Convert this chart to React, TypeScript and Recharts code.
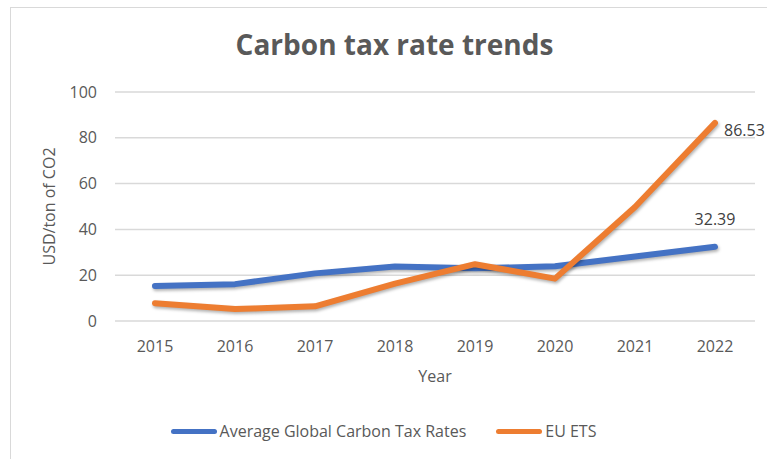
import React from "react";
import { LineChart, Line, XAxis, YAxis, CartesianGrid, LabelList } from "recharts";

const years = ["2015", "2016", "2017", "2018", "2019", "2020", "2021", "2022"];
const globalRates = [15.3, 16.1, 20.8, 23.8, 23.0, 23.9, 28.2, 32.39];
const euEts = [7.7, 5.2, 6.4, 16.3, 24.8, 18.5, 49.8, 86.53];
const yTicks = [0, 20, 40, 60, 80, 100];
const seriesNames = ["Average Global Carbon Tax Rates", "EU ETS"];
const seriesColors = ["#4472C4", "#ED7D31"];

const data = years.map((year, i) => ({ year, global: globalRates[i], eu: euEts[i] }));

const FONT = "'Open Sans', 'Noto Sans', sans-serif";
const TEXT = "#595959";

const lastLabel = (pos: "top" | "right") => (props: any) => {
    const { x, y, index, value } = props;
    if (index !== years.length - 1) return null;
    if (pos === "top") {
        return (
            <text x={x} y={y - 22} textAnchor="middle" fill="#404040" fontSize={16} fontFamily={FONT}>
                {value}
            </text>
        );
    }
    return (
        <text x={x + 9} y={y + 13} textAnchor="start" fill="#404040" fontSize={16} fontFamily={FONT}>
            {value}
        </text>
    );
};

const App: React.FC = () => (
    <div style={{ position: "absolute", left: 0, top: 0, width: 767, height: 459, background: "#fff", overflow: "hidden" }}>
        <style>{`.shadowed path { filter: drop-shadow(1px 2px 1.5px rgba(0,0,0,0.3)); }`}</style>
        <div style={{ position: "absolute", left: 10, top: 7, width: 800, height: 500, border: "1px solid #d9d9d9" }} />
        <div style={{ position: "absolute", left: 0, top: 25, width: 789, textAlign: "center", fontFamily: FONT, fontWeight: 700, fontSize: 28, color: TEXT }}>
            Carbon tax rate trends
        </div>
        <div style={{ position: "absolute", left: 0, top: 0 }}>
            <LineChart width={767} height={459} data={data} margin={{ top: 92, right: 12, bottom: 0, left: 0 }}>
                <CartesianGrid vertical={false} stroke="#d9d9d9" strokeWidth={1.5} />
                <XAxis
                    dataKey="year"
                    axisLine={false}
                    tickLine={false}
                    tickSize={0}
                    tickMargin={20}
                    height={138}
                    padding={{ left: 40, right: 40 }}
                    tick={{ fill: TEXT, fontSize: 16, fontFamily: FONT }}
                    label={{ value: "Year", position: "insideTop", offset: 50, fill: TEXT, fontSize: 16, fontFamily: FONT }}
                />
                <YAxis
                    domain={[0, 100]}
                    ticks={yTicks}
                    axisLine={false}
                    tickLine={false}
                    tickSize={0}
                    tickMargin={18}
                    width={115}
                    tick={{ fill: TEXT, fontSize: 16, fontFamily: FONT }}
                    label={{ value: "USD/ton of CO2", angle: -90, position: "insideLeft", offset: 49, fill: TEXT, fontSize: 16, fontFamily: FONT, style: { textAnchor: "middle" } }}
                />
                <Line
                    className="shadowed"
                    dataKey="global"
                    name={seriesNames[0]}
                    stroke={seriesColors[0]}
                    strokeWidth={6}
                    strokeLinecap="round"
                    strokeLinejoin="round"
                    dot={false}
                    isAnimationActive={false}
                >
                    <LabelList dataKey="global" content={lastLabel("top")} />
                </Line>
                <Line
                    className="shadowed"
                    dataKey="eu"
                    name={seriesNames[1]}
                    stroke={seriesColors[1]}
                    strokeWidth={6}
                    strokeLinecap="round"
                    strokeLinejoin="round"
                    dot={false}
                    isAnimationActive={false}
                >
                    <LabelList dataKey="eu" content={lastLabel("right")} />
                </Line>
            </LineChart>
        </div>
        <div style={{ position: "absolute", left: 0, top: 420, width: 767, display: "flex", justifyContent: "center", gap: 30, fontFamily: FONT, fontSize: 16, color: TEXT }}>
            {seriesNames.map((name, i) => (
                <div key={name} style={{ display: "flex", alignItems: "center" }}>
                    <span style={{ display: "inline-block", width: 46, height: 5, borderRadius: 3, background: seriesColors[i], marginRight: 3 }} />
                    {name}
                </div>
            ))}
        </div>
    </div>
);

export default App;
